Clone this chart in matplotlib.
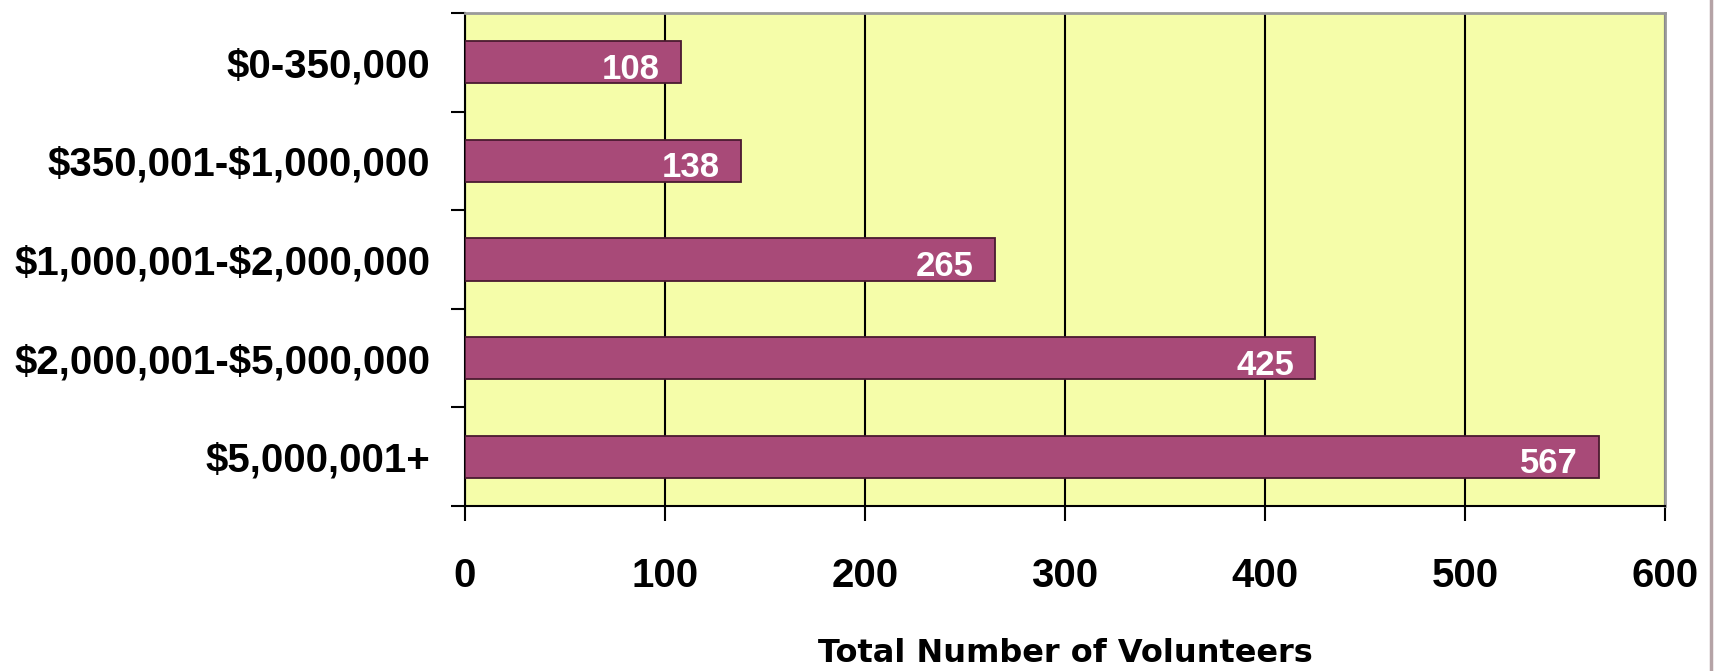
import matplotlib
matplotlib.use("Agg")
import matplotlib.pyplot as plt
from matplotlib.lines import Line2D

plt.rcParams["text.parse_math"] = False

categories = ["$0-350,000", "$350,001-$1,000,000", "$1,000,001-$2,000,000",
              "$2,000,001-$5,000,000", "$5,000,001+"]
volunteers = [108, 138, 265, 425, 567]
x_ticks = [0, 100, 200, 300, 400, 500, 600]
x_label = "Total Number of Volunteers"

W, H, DPI = 1715, 671, 100
fig = plt.figure(figsize=(W / DPI, H / DPI), dpi=DPI)
fig.patch.set_facecolor("white")

left, right, top, bottom = 465, 1665, 13, 506
ax = fig.add_axes([left / W, 1 - bottom / H, (right - left) / W, (bottom - top) / H])
ax.set_facecolor("#F5FDA9")

pos = list(range(len(categories)))
ax.barh(pos, volunteers, height=0.43, color="#A84A78", edgecolor="#4a1a30",
        linewidth=1.3, zorder=3)

for p, v in zip(pos, volunteers):
    ax.annotate(str(v), xy=(v, p), xytext=(-21, -7), textcoords="offset pixels",
                ha="right", va="center", color="white", fontsize=25,
                fontweight="bold", family="Liberation Sans", zorder=4)

ax.set_xlim(x_ticks[0], x_ticks[-1])
ax.set_ylim(len(categories) - 0.5, -0.5)
ax.set_xticks(x_ticks)
ax.set_xticklabels([str(t) for t in x_ticks], fontsize=29, fontweight="bold",
                   family="Liberation Sans")
ax.set_yticks(pos)
ax.set_yticklabels(categories, fontsize=29, fontweight="bold", family="Liberation Sans")
ax.set_yticks([p - 0.5 for p in pos] + [len(pos) - 0.5], minor=True)

ax.tick_params(axis="y", which="major", length=0, pad=25)
ax.tick_params(axis="y", which="minor", length=10, width=1.5, color="black", direction="out")
ax.tick_params(axis="x", which="major", length=11, width=1.5, color="black",
               direction="out", pad=26)

ax.grid(axis="x", color="black", linewidth=1.5, zorder=1)
ax.set_axisbelow(True)

for s in ["left", "bottom"]:
    ax.spines[s].set_color("black")
    ax.spines[s].set_linewidth(1.5)
for s in ["top", "right"]:
    ax.spines[s].set_color("#9a9a9a")
    ax.spines[s].set_linewidth(2)

fig.text((left + right) / 2 / W, 1 - 654 / H, x_label, ha="center", va="center",
         fontsize=23, fontweight="bold", family="DejaVu Sans")

fig.add_artist(Line2D([1711 / W, 1711 / W], [0, 1], transform=fig.transFigure,
                      color="#b5a3a6", linewidth=2.5))

fig.savefig("out.png", dpi=DPI)
